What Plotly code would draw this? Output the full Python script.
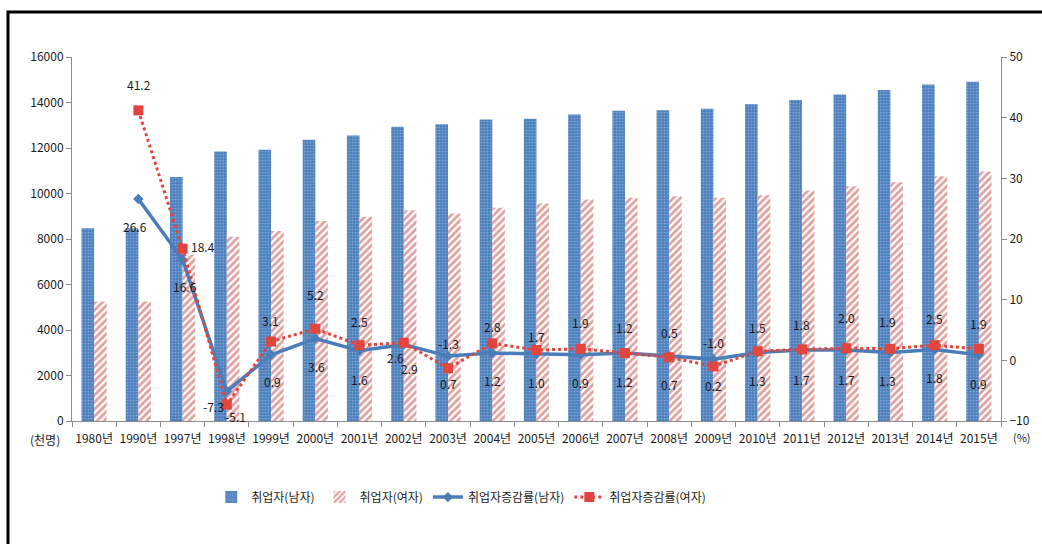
import plotly.graph_objects as go

# Employed persons by sex (thousand persons) and year-on-year change (%)
years = ["1980년", "1990년", "1997년", "1998년", "1999년", "2000년", "2001년",
         "2002년", "2003년", "2004년", "2005년", "2006년", "2007년", "2008년",
         "2009년", "2010년", "2011년", "2012년", "2013년", "2014년", "2015년"]

employed_male = [8470, 8470, 10730, 11850, 11920, 12360, 12550, 12930, 13040,
                 13250, 13290, 13470, 13640, 13660, 13720, 13920, 14110, 14350,
                 14550, 14790, 14910]
employed_female = [5250, 5250, 7300, 8100, 8350, 8790, 8980, 9260, 9110, 9370,
                   9560, 9740, 9810, 9880, 9810, 9920, 10130, 10320, 10490,
                   10760, 10970]

growth_male = [None, 26.6, 16.6, -5.1, 0.9, 3.6, 1.6, 2.6, 0.7, 1.2, 1.0, 0.9,
               1.2, 0.7, 0.2, 1.3, 1.7, 1.7, 1.3, 1.8, 0.9]
growth_female = [None, 41.2, 18.4, -7.3, 3.1, 5.2, 2.5, 2.9, -1.3, 2.8, 1.7,
                 1.9, 1.2, 0.5, -1.0, 1.5, 1.8, 2.0, 1.9, 2.5, 1.9]

series_names = ["취업자(남자)", "취업자(여자)", "취업자증감률(남자)", "취업자증감률(여자)"]

# pixel offsets of the value labels relative to each point (dx, dy; dy down)
male_label_off = [None, (-3, 28), (2, 27), (9, 25), (1, 27), (1, 28), (0, 29),
                  (-8, 13), (0, 27), (0, 27), (0, 28), (0, 28), (0, 28), (0, 28),
                  (0, 26), (0, 28), (0, 29), (0, 29), (-3, 28), (0, 28), (0, 29)]
female_label_off = [None, (1, -26), (20, -2), (-13, 2), (-1, -21), (0, -34),
                    (0, -24), (6, 26), (0, -25), (0, -17), (0, -14), (0, -26),
                    (0, -26), (0, -25), (0, -24), (0, -24), (0, -25), (0, -31),
                    (-3, -27), (0, -27), (0, -25)]

FONT = "Noto Sans CJK KR"
BLUE = "#4F81BD"
LINE_BLUE = "#4A7EBB"
RED = "#BD4541"
LINE_RED = "#E2453D"
TEXT = "#1a1a1a"
AXIS = "#8c8c8c"

fig = go.Figure()

fig.add_trace(go.Bar(
    x=years, y=employed_male, name=series_names[0],
    marker=dict(color=BLUE, line=dict(width=0),
                pattern=dict(shape=".", bgcolor=BLUE, fgcolor="#B9CFEA",
                             size=3, solidity=0.25, fillmode="overlay")),
))
fig.add_trace(go.Bar(
    x=years, y=employed_female, name=series_names[1],
    marker=dict(color="white", line=dict(width=0),
                pattern=dict(shape="/", bgcolor="white", fgcolor=RED,
                             size=5, solidity=0.55, fillmode="overlay")),
))
fig.add_trace(go.Scatter(
    x=years, y=growth_male, name=series_names[2], yaxis="y2",
    mode="lines+markers", connectgaps=False,
    line=dict(color=LINE_BLUE, width=3.5),
    marker=dict(symbol="diamond", size=8, color=LINE_BLUE),
))
fig.add_trace(go.Scatter(
    x=years, y=growth_female, name=series_names[3], yaxis="y2",
    mode="lines+markers", connectgaps=False,
    line=dict(color=LINE_RED, width=3, dash="dot"),
    marker=dict(symbol="square", size=10, color=LINE_RED),
))

annotations = []
for values, offsets in ((growth_male, male_label_off), (growth_female, female_label_off)):
    for cat, v, off in zip(years, values, offsets):
        if v is None:
            continue
        annotations.append(dict(
            x=cat, y=v, xref="x", yref="y2", text=f"{v:.1f}",
            showarrow=False, xshift=off[0], yshift=-off[1],
            font=dict(family=FONT, size=12, color=TEXT),
        ))

annotations.append(dict(x=-0.029, y=-0.052, xref="paper", yref="paper",
                        text="(천명)", showarrow=False, xanchor="center",
                        yanchor="middle", font=dict(family=FONT, size=12, color=TEXT)))
annotations.append(dict(x=1.023, y=-0.044, xref="paper", yref="paper",
                        text="(%)", showarrow=False, xanchor="center",
                        yanchor="middle", font=dict(family=FONT, size=11, color=TEXT)))

axis_common = dict(showgrid=False, showline=True, linecolor=AXIS, linewidth=1,
                   ticks="outside", ticklen=5, tickcolor=AXIS, zeroline=False,
                   automargin=False)

fig.update_layout(
    width=1042, height=544,
    margin=dict(l=72, r=41, t=57, b=123, autoexpand=False),
    paper_bgcolor="white", plot_bgcolor="white",
    barmode="group", bargap=0.43, bargroupgap=0.0,
    font=dict(family=FONT, size=12, color=TEXT),
    showlegend=True,
    legend=dict(orientation="h", x=0.419, y=-0.209, xanchor="center",
                yanchor="middle", font=dict(family=FONT, size=12, color=TEXT),
                itemwidth=30, tracegroupgap=0, bgcolor="rgba(0,0,0,0)"),
    xaxis=dict(type="category", tickson="boundaries", tickangle=0,
               range=[-0.5, len(years) - 0.5], ticklabelstandoff=7,
               tickfont=dict(family=FONT, size=12, color=TEXT), **axis_common),
    yaxis=dict(range=[0, 16000], dtick=2000, tickformat="d",
               tickfont=dict(family=FONT, size=12, color=TEXT), **axis_common),
    yaxis2=dict(range=[-10, 50], dtick=10, tickformat="d", overlaying="y",
                side="right", tickfont=dict(family=FONT, size=12, color=TEXT),
                **axis_common),
    annotations=annotations,
    shapes=[dict(type="rect", xref="paper", yref="paper",
                 x0=-0.0689, x1=1.06, y0=-0.40, y1=1.1236,
                 line=dict(color="black", width=3), fillcolor="rgba(0,0,0,0)",
                 layer="below")],
)

fig.write_html("out.html")
